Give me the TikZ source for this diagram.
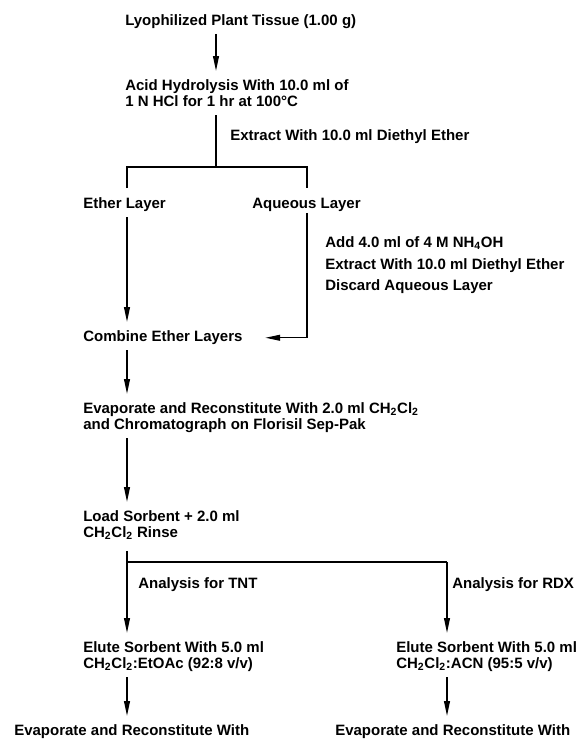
\documentclass[tikz,border=0pt]{standalone}
\usepackage{fontspec}
\setmainfont{Liberation Sans}
\usetikzlibrary{arrows.meta, positioning}
\newcommand{\dcm}{CH\textsubscript{2}Cl\textsubscript{2}}

\begin{document}
\begin{tikzpicture}[
    x=0.75pt, y=-0.75pt,
    stepbox/.style={anchor=north west, inner sep=0pt, align=left,
                    font=\bfseries\fontsize{11.25}{12}\selectfont},
    notebox/.style={stepbox},
    arrowstyle/.style={-{Triangle[length=11pt, width=4.4pt]}, line width=0.85pt,
                       shorten <=4pt, shorten >=6.5pt},
    linestyle/.style={line width=0.85pt},
]
\useasboundingbox (0,0) rectangle (576,740);

%% Steps (left column)
\node[stepbox] (tissue)  at (125,14)    {Lyophilized Plant Tissue (1.00 g)};
\node[stepbox] (hydro)   at (125,79.5)  {Acid Hydrolysis With 10.0 ml of\\1 N HCl for 1 hr at 100°C};
\node[stepbox] (ether)   at (83,197.5)  {Ether Layer};
\node[stepbox] (aqueous) at (252,197.5) {Aqueous Layer};
\node[stepbox] (combine) at (83,330.5)  {Combine Ether Layers};
\node[stepbox] (evap)    at (83,402.5)  {Evaporate and Reconstitute With 2.0 ml \dcm\\and Chromatograph on Florisil Sep-Pak};
\node[stepbox] (load)    at (83,510.5)  {Load Sorbent + 2.0 ml\\\dcm{} Rinse};
\node[stepbox] (eluteT)  at (83,641.5)  {Elute Sorbent With 5.0 ml\\\dcm:EtOAc (92:8 v/v)};
\node[stepbox] (eluteR)  at (396,641.5) {Elute Sorbent With 5.0 ml\\\dcm:ACN (95:5 v/v)};
\node[stepbox] (evapT)   at (14,724.5)  {Evaporate and Reconstitute With};
\node[stepbox] (evapR)   at (335,724.5) {Evaporate and Reconstitute With};

%% Notes beside the lines
\node[notebox] (extract)  at (230,129.5) {Extract With 10.0 ml Diethyl Ether};
\node[notebox] (base)     at (325,236.5) {Add 4.0 ml of 4 M NH\textsubscript{4}OH};
\node[notebox] (extract2) at (325,258.5) {Extract With 10.0 ml Diethyl Ether};
\node[notebox] (discard)  at (325,279.5) {Discard Aqueous Layer};
\node[notebox] (tnt)      at (138,577.5) {Analysis for TNT};
\node[notebox] (rdx)      at (452,577.5) {Analysis for RDX};

%% Junctions
\coordinate (split)  at (216,167);
\coordinate (splitL) at (127,167);
\coordinate (splitR) at (307,167);
\coordinate (fork)   at (127,562);
\coordinate (forkR)  at (447,562);

%% Arrows
\draw[arrowstyle] (tissue.south -| split) -- (hydro.north -| split);
\draw[linestyle, shorten <=6pt] (hydro.south -| split) -- (split);
\draw[linestyle, shorten <=7pt, shorten >=7pt]
    (ether.north -| splitL) -- (splitL) -- (splitR) -- (aqueous.north -| splitR);
\foreach \from/\to in {ether/combine, combine/evap, evap/load}
    \draw[arrowstyle] (\from.south -| splitL) -- (\to.north -| splitL);
\draw[arrowstyle, shorten <=1pt, shorten >=17pt] (aqueous.south -| splitR) |- (combine.east);
\draw[linestyle, shorten <=8pt] (load.south -| fork) -- (fork) -- (forkR);
\draw[arrowstyle, shorten <=0pt] (fork) -- (eluteT.north -| fork);
\draw[arrowstyle, shorten <=0pt] (forkR) -- (eluteR.north -| forkR);
\draw[arrowstyle] (eluteT.south -| fork) -- (evapT.north -| fork);
\draw[arrowstyle] (eluteR.south -| forkR) -- (evapR.north -| forkR);

\end{tikzpicture}
\end{document}
